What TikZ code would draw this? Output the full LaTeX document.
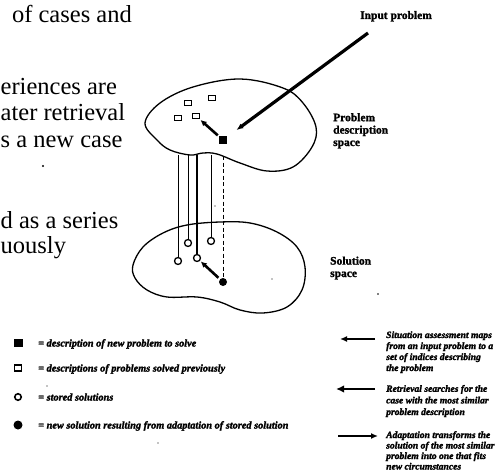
\documentclass[tikz,border=0pt]{standalone}
\usepackage{fontspec}
\setmainfont{Liberation Serif}
\newfontfamily\labelfont{Liberation Serif Bold}[FakeBold=1.5]
\newfontfamily\notefont{Liberation Serif Bold Italic}[FakeBold=2]
\usetikzlibrary{arrows.meta}

\tikzset{
  blob/.style={line width=1.3pt, line join=round},
  fsq/.style={fill=black, draw=black, minimum width=7pt, minimum height=7pt, inner sep=0pt},
  osq/.style={draw=black, fill=white, line width=1.2pt, minimum width=6.5pt, minimum height=5.5pt, inner sep=0pt},
  ocirc/.style={circle, draw=black, fill=white, line width=1.3pt, minimum size=7pt, inner sep=0pt},
  fcirc/.style={circle, fill=black, minimum size=8pt, inner sep=0pt},
  link/.style={line width=0.9pt},
  thicklink/.style={line width=2.6pt},
  dashlink/.style={line width=0.9pt, dash pattern=on 4pt off 2.5pt},
  pointer/.style={line width=2.6pt, -{Latex[length=6pt,width=6pt]}},
  inarrow/.style={line width=3.2pt, -{Latex[length=7pt,width=5.5pt]}},
  legarrow/.style={line width=2.4pt, -{Latex[length=7pt,width=6pt]}},
  prose/.style={font=\fontsize{24.5}{26}\selectfont, inner sep=0pt},
  spacelabel/.style={font=\labelfont\fontsize{11.5}{12.4}\selectfont, inner sep=0pt, anchor=base west, align=left},
  note/.style={font=\notefont\fontsize{10.3}{11}\selectfont, inner sep=0pt, anchor=base west, align=left},
  sidenote/.style={note, font=\notefont\fontsize{9.6}{11}\selectfont},
  speck/.style={fill=black}
}

\begin{document}
\begin{tikzpicture}[x=1pt, y=-1pt]
\useasboundingbox (0,0) rectangle (499,471);
\clip (0,0) rectangle (499,471);

% running text of the page, as far as it reaches into the figure
\node[prose, anchor=base east] (p1) at (132,22) {of cases and};
\node[prose, anchor=base west] (p2) at (0.5,94) {eriences are};
\node[prose, anchor=base west] (p3) at (0.5,120.5) {ater retrieval};
\node[prose, anchor=base west] (p4) at (0.5,147) {s a new case};
\node[prose, anchor=base west] (p5) at (0.5,228) {d as a series};
\node[prose, anchor=base west] (p6) at (0.5,253) {uously};
\fill[speck] (43,166) circle (1.1pt);

% problem description space
\draw[blob] plot[smooth cycle, tension=0.6] coordinates {
  (145,123) (160,103) (193,87) (240,79) (283,88) (303,103) (316,127)
  (312,147) (293,167) (267,171) (240,163) (217,154) (203,153) (190,155)
  (170,150) (157,140)};

% solution space
\draw[blob] plot[smooth cycle, tension=0.6] coordinates {
  (133,265) (143,247) (163,233) (187,225) (220,222) (250,223) (277,232)
  (297,247) (305,267) (302,290) (287,307) (263,313) (240,310) (220,302)
  (197,297) (167,297) (147,290) (135,278)};

% problems solved previously and the new problem
\node[osq] (q1) at (188,103) {};
\node[osq] (q2) at (212,98) {};
\node[osq] (q3) at (178,118) {};
\node[osq] (q4) at (196,116) {};
\node[fsq] (newp) at (223,140) {};

% stored solutions and the adapted solution
\node[ocirc] (s1) at (178,261) {};
\node[ocirc] (s2) at (188,243) {};
\node[ocirc] (s3) at (197,258) {};
\node[ocirc] (s4) at (211,241) {};
\node[fcirc] (sol) at (223,282) {};

% links from the problem space down to the solutions
\coordinate (t1) at (178,155);
\coordinate (t2) at (188,155);
\coordinate (t3) at (197,155);
\coordinate (t4) at (211,155);
\coordinate (t5) at (223,156);
\draw[link] (t1) -- (s1);
\draw[link] (t2) -- (s2);
\draw[thicklink] (t3) -- (s3);
\draw[link] (t4) -- (s4);
\draw[dashlink] (t5) -- (sol);

% retrieval and adaptation pointers
\draw[pointer, shorten <=2pt, shorten >=1pt] (newp) -- (q4);
\draw[pointer, shorten <=2pt, shorten >=1pt] (sol) -- (s3);

% input problem
\node[spacelabel] (inlabel) at (360,19) {Input problem};
\coordinate (instart) at (368,33);
\draw[inarrow, shorten >=12pt] (instart) -- (newp);

% space labels (anchored on the baseline of their last line)
\node[spacelabel] (plabel) at (333,146) {Problem\\description\\space};
\node[spacelabel] (slabel) at (330,277) {Solution\\space};

% legend of markers
\node[fsq, minimum width=8pt, minimum height=7pt] (lm1) at (18,343) {};
\node[osq, minimum width=7pt, minimum height=6pt] (lm2) at (18,368) {};
\node[ocirc, minimum size=6.5pt, line width=1.6pt] (lm3) at (18,397) {};
\node[fcirc, minimum size=9pt] (lm4) at (18,425) {};
\node[note] (lt1) at (38,346.5) {= description of new problem to solve};
\node[note] (lt2) at (38,371.5) {= descriptions of problems solved previously};
\node[note] (lt3) at (38,400.5) {= stored solutions};
\node[note] (lt4) at (38,428.5) {= new solution resulting from adaptation of stored solution};

% legend of arrows
\coordinate (a1s) at (375,339);
\coordinate (a1e) at (340,339);
\coordinate (a2s) at (375,389);
\coordinate (a2e) at (336,389);
\coordinate (a3s) at (338,436);
\coordinate (a3e) at (378,436);
\draw[legarrow] (a1s) -- (a1e);
\draw[legarrow, line width=2.8pt, -{Latex[length=8pt,width=7.5pt]}] (a2s) -- (a2e);
\draw[legarrow, line width=2pt] (a3s) -- (a3e);
\node[sidenote] (n1) at (386,371) {Situation assessment maps\\from an input problem to a\\set of indices describing\\the problem};
\node[sidenote, font=\notefont\fontsize{9.6}{11.6}\selectfont] (n2) at (386,415) {Retrieval searches for the\\case with the most similar\\problem description};
\node[sidenote, font=\notefont\fontsize{9.6}{10.5}\selectfont] (n3) at (386,469.5) {Adaptation transforms the\\solution of the most similar\\problem into one that fits\\new circumstances};

% specks on the scanned page
\fill[speck] (215,206) circle (0.7pt);
\fill[speck] (272,279) circle (0.7pt);
\fill[speck] (378,294) circle (0.8pt);
\fill[speck] (158,443) circle (0.7pt);
\fill[speck] (47,386) circle (0.7pt);
\end{tikzpicture}
\end{document}
